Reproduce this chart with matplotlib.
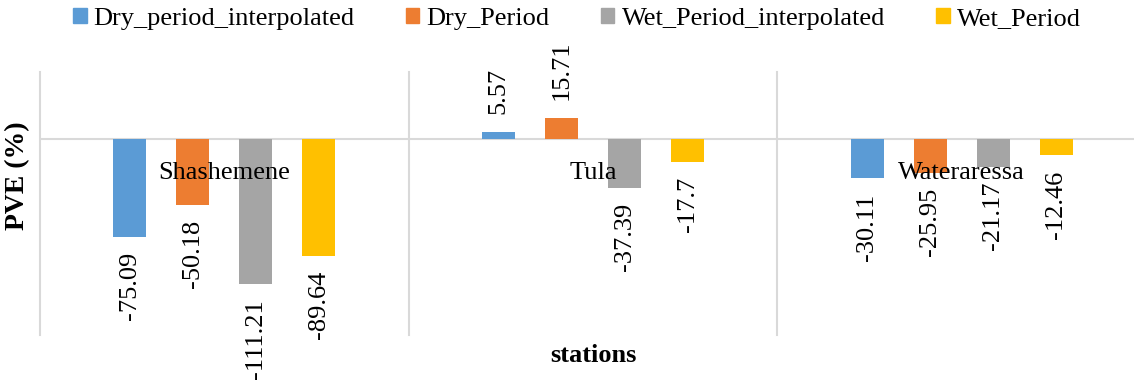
import numpy as np
import matplotlib
matplotlib.use("Agg")
import matplotlib.pyplot as plt
from matplotlib.patches import Patch

# chart data
stations = ["Shashemene", "Tula", "Wateraressa"]
series_names = ["Dry_period_interpolated", "Dry_Period", "Wet_Period_interpolated", "Wet_Period"]
dry_interp = [-75.09, 5.57, -30.11]
dry_period = [-50.18, 15.71, -25.95]
wet_interp = [-111.21, -37.39, -21.17]
wet_period = [-89.64, -17.7, -12.46]
colors = ["#5B9BD5", "#ED7D31", "#A5A5A5", "#FFC000"]

plt.rcParams['font.family'] = ['Liberation Serif', 'DejaVu Serif']
FS = 19
W, H = 1134, 387

fig = plt.figure(figsize=(W / 100, H / 100), dpi=100)
# plot area runs past the right edge of the picture (cropped in the original)
ax = fig.add_axes([40 / W, (H - 335) / H, 1106 / W, 263 / H])

x = np.arange(len(stations))
offsets = np.array([-1.5, -0.5, 0.5, 1.5]) * 0.171
bar_w = 0.0894
grid_c = "#d9d9d9"

# separators and zero line
for xv in [-0.5, 0.5, 1.5, 2.5]:
    ax.axvline(xv, color=grid_c, lw=1.5, zorder=0, clip_on=False)
ax.axhline(0, color=grid_c, lw=1.5, zorder=1)

all_series = [dry_interp, dry_period, wet_interp, wet_period]
for vals, off, col in zip(all_series, offsets, colors):
    bars = ax.bar(x + off, vals, bar_w, color=col, zorder=2)
    for b, v in zip(bars, vals):
        if v < 0:
            ax.annotate(f"{v:g}", (b.get_x() + b.get_width() / 2, v),
                        xytext=(0, -15), textcoords="offset pixels",
                        rotation=90, ha="center", va="top", fontsize=FS,
                        annotation_clip=False)
        else:
            ax.annotate(f"{v:g}", (b.get_x() + b.get_width() / 2, v),
                        xytext=(0, 18), textcoords="offset pixels",
                        rotation=90, ha="center", va="bottom", fontsize=FS,
                        annotation_clip=False)

# category names sit just below the zero line
for xi, name in zip(x, stations):
    ax.annotate(name, (xi, 0), xytext=(0, -34), textcoords="offset pixels",
                ha="center", va="center", fontsize=FS, zorder=5)

ax.set_xlim(-0.5, 2.5)
ax.set_ylim(-150, 51.3)
ax.set_xticks([])
ax.set_yticks([])
for s in ax.spines.values():
    s.set_visible(False)

fig.text(18 / W, 1 - 176 / H, "PVE (%)", rotation=90, ha="center", va="center",
         fontsize=FS + 1, fontweight="bold")
fig.text(593 / W, 1 - 355 / H, "stations", ha="center", va="center",
         fontsize=FS, fontweight="bold")

handles = [Patch(color=c) for c in colors]
fig.legend(handles, series_names, loc="center", bbox_to_anchor=(577 / W, 1 - 19 / H),
           ncol=4, frameon=False, fontsize=FS, handlelength=0.5, handleheight=0.5,
           handletextpad=0.27, columnspacing=1.95, borderpad=0, borderaxespad=0)

fig.savefig("out.png", dpi=100)
